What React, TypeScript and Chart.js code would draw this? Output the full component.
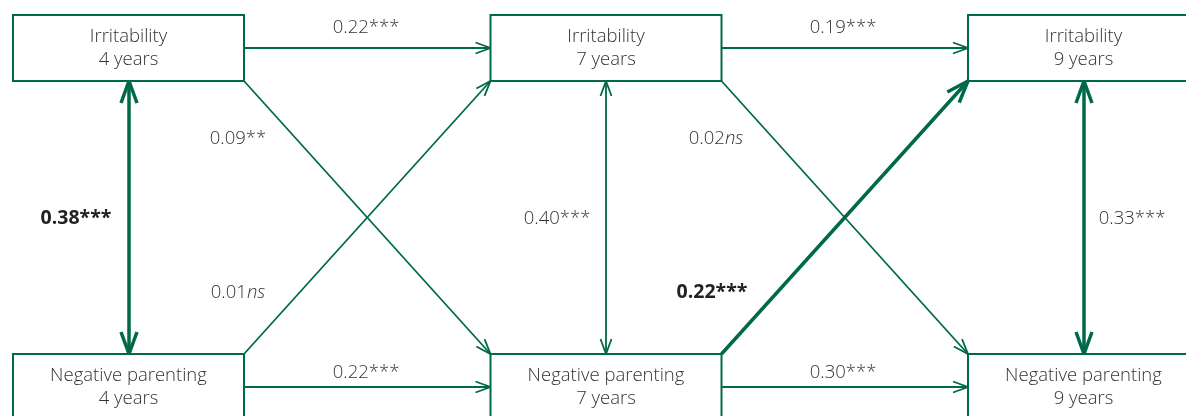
import React, { useEffect, useRef } from "react";
import { Chart, registerables } from "chart.js";

Chart.register(...registerables);

// ---------- data ----------
const waves = ["4 years", "7 years", "9 years"];
const constructs = ["Irritability", "Negative parenting"];

// autoregressive paths (wave i -> wave i+1)
const irritabilityStability = [0.22, 0.19];
const irritabilityStabilitySig = ["***", "***"];
const parentingStability = [0.22, 0.3];
const parentingStabilitySig = ["***", "***"];

// cross-lagged paths
const irritabilityToParenting = [0.09, 0.02];
const irritabilityToParentingSig = ["**", "ns"];
const parentingToIrritability = [0.01, 0.22];
const parentingToIrritabilitySig = ["ns", "***"];

// within-wave covariances
const covariances = [0.38, 0.4, 0.33];
const covariancesSig = ["***", "***", "***"];

// ---------- layout / style (not data) ----------
const W = 1186;
const H = 416;
const colCenters = [128.5, 606, 1083.5];
const rowCenters = [48, 387];
const boxHalfW = 115.5;
const boxHalfH = 33;
const GREEN = "#00694a";
const TEXT = "#333333";
const FONT = '"Open Sans", "DejaVu Sans", sans-serif';

// label anchor (centre x, baseline y) per path group
const stabilityIrrLabelPos = [[366, 33], [843, 33]];
const stabilityParLabelPos = [[366, 378], [843, 378]];
const irrToParLabelPos = [[238, 144], [716, 144]];
const parToIrrLabelPos = [[238, 298], [712, 298]];
const covLabelPos = [[76, 224], [557, 224], [1132, 224]];

// emphasis
const thickCov = [true, false, true];
const boldCov = [true, false, false];
const thickParToIrr = [false, true];
const boldParToIrr = [false, true];

type PathDef = {
  x1: number; y1: number; x2: number; y2: number;
  double: boolean; thick: boolean; bold: boolean;
  value: number; sig: string; lx: number; ly: number;
};

function buildPaths(): PathDef[] {
  const paths: PathDef[] = [];
  const top = 0, bot = 1;
  for (let i = 0; i < waves.length - 1; i++) {
    const xs = colCenters[i] + boxHalfW;
    const xt = colCenters[i + 1] - boxHalfW;
    paths.push({
      x1: xs, y1: rowCenters[top], x2: xt, y2: rowCenters[top], double: false,
      thick: false, bold: false, value: irritabilityStability[i], sig: irritabilityStabilitySig[i],
      lx: stabilityIrrLabelPos[i][0], ly: stabilityIrrLabelPos[i][1],
    });
    paths.push({
      x1: xs, y1: rowCenters[bot], x2: xt, y2: rowCenters[bot], double: false,
      thick: false, bold: false, value: parentingStability[i], sig: parentingStabilitySig[i],
      lx: stabilityParLabelPos[i][0], ly: stabilityParLabelPos[i][1],
    });
    paths.push({
      x1: xs, y1: rowCenters[top] + boxHalfH, x2: xt, y2: rowCenters[bot] - boxHalfH, double: false,
      thick: false, bold: false, value: irritabilityToParenting[i], sig: irritabilityToParentingSig[i],
      lx: irrToParLabelPos[i][0], ly: irrToParLabelPos[i][1],
    });
    paths.push({
      x1: xs, y1: rowCenters[bot] - boxHalfH, x2: xt, y2: rowCenters[top] + boxHalfH, double: false,
      thick: thickParToIrr[i], bold: boldParToIrr[i], value: parentingToIrritability[i], sig: parentingToIrritabilitySig[i],
      lx: parToIrrLabelPos[i][0], ly: parToIrrLabelPos[i][1],
    });
  }
  for (let i = 0; i < waves.length; i++) {
    const cx = Math.round(colCenters[i]);
    paths.push({
      x1: cx, y1: rowCenters[top] + boxHalfH, x2: cx, y2: rowCenters[bot] - boxHalfH, double: true,
      thick: thickCov[i], bold: boldCov[i], value: covariances[i], sig: covariancesSig[i],
      lx: covLabelPos[i][0], ly: covLabelPos[i][1],
    });
  }
  return paths;
}

function drawHead(ctx: CanvasRenderingContext2D, tx: number, ty: number, fx: number, fy: number, thick: boolean) {
  const len = thick ? 22 : 15;
  const hw = thick ? 8 : 5.5;
  const dx = tx - fx, dy = ty - fy;
  const d = Math.hypot(dx, dy);
  const ux = dx / d, uy = dy / d;
  const px = -uy, py = ux;
  const bx = tx - ux * len, by = ty - uy * len;
  ctx.beginPath();
  ctx.moveTo(bx + px * hw, by + py * hw);
  ctx.lineTo(tx, ty);
  ctx.lineTo(bx - px * hw, by - py * hw);
  ctx.stroke();
}

export default function App() {
  const ref = useRef<HTMLCanvasElement | null>(null);

  useEffect(() => {
    document.body.style.margin = "0";
    const canvas = ref.current;
    if (!canvas) return;
    const paths = buildPaths();

    const datasets = paths.map((p) => ({
      type: "scatter" as const,
      data: [{ x: p.x1, y: p.y1 }, { x: p.x2, y: p.y2 }],
      showLine: true,
      borderColor: GREEN,
      backgroundColor: GREEN,
      borderWidth: p.thick ? 3.5 : 1.8,
      pointRadius: 0,
      clip: false as any,
    }));

    const diagramPlugin = {
      id: "diagram",
      afterDatasetsDraw(chart: any) {
        const ctx: CanvasRenderingContext2D = chart.ctx;
        const xs = chart.scales.x;
        const ys = chart.scales.y;
        const X = (v: number) => xs.getPixelForValue(v);
        const Y = (v: number) => ys.getPixelForValue(v);
        ctx.save();
        // arrow heads
        ctx.strokeStyle = GREEN;
        ctx.lineCap = "butt";
        ctx.lineJoin = "miter";
        paths.forEach((p) => {
          ctx.lineWidth = p.thick ? 3.5 : 1.8;
          drawHead(ctx, X(p.x2), Y(p.y2), X(p.x1), Y(p.y1), p.thick);
          if (p.double) drawHead(ctx, X(p.x1), Y(p.y1), X(p.x2), Y(p.y2), p.thick);
        });
        // boxes
        ctx.lineWidth = 2;
        ctx.fillStyle = "#ffffff";
        for (let r = 0; r < constructs.length; r++) {
          for (let c = 0; c < waves.length; c++) {
            const l = X(colCenters[c] - boxHalfW);
            const rr = X(colCenters[c] + boxHalfW);
            const t = Y(rowCenters[r] - boxHalfH);
            const b = Y(rowCenters[r] + boxHalfH);
            ctx.fillRect(l, t, rr - l, b - t);
            ctx.strokeRect(l, t, rr - l, b - t);
            ctx.fillStyle = TEXT;
            ctx.textAlign = "center";
            ctx.textBaseline = "alphabetic";
            ctx.font = `300 18.5px ${FONT}`;
            ctx.fillText(constructs[r], X(colCenters[c]), Y(rowCenters[r] - 6));
            ctx.fillText(waves[c], X(colCenters[c]), Y(rowCenters[r] + 17));
            ctx.fillStyle = "#ffffff";
          }
        }
        // coefficient labels
        ctx.textAlign = "left";
        paths.forEach((p) => {
          const num = p.value.toFixed(2);
          const w8 = p.bold ? "700" : "300";
          const size = p.bold ? 19.5 : 18.5;
          const numFont = `${w8} ${size}px ${FONT}`;
          const sigFont = p.sig === "ns" ? `italic 300 ${size}px ${FONT}` : `${w8} ${size}px ${FONT}`;
          ctx.font = numFont;
          const w1 = ctx.measureText(num).width;
          ctx.font = sigFont;
          const w2 = ctx.measureText(p.sig).width;
          const x0 = X(p.lx) - (w1 + w2) / 2;
          const y0 = Y(p.ly);
          ctx.fillStyle = p.bold ? "#222222" : TEXT;
          ctx.font = numFont;
          ctx.fillText(num, x0, y0);
          ctx.font = sigFont;
          ctx.fillText(p.sig, x0 + w1, y0);
        });
        ctx.restore();
      },
    };

    const chart = new Chart(canvas, {
      type: "scatter",
      data: { datasets },
      options: {
        animation: false,
        responsive: false,
        maintainAspectRatio: false,
        layout: { padding: 0 },
        plugins: { legend: { display: false }, tooltip: { enabled: false } },
        events: [],
        scales: {
          x: { type: "linear", min: 0, max: W, display: false },
          y: { type: "linear", min: 0, max: H, reverse: true, display: false },
        },
      },
      plugins: [diagramPlugin],
    });
    return () => chart.destroy();
  }, []);

  return (
    <div style={{ width: W, height: H, background: "#ffffff" }}>
      <canvas ref={ref} width={W} height={H} style={{ display: "block" }} />
    </div>
  );
}
